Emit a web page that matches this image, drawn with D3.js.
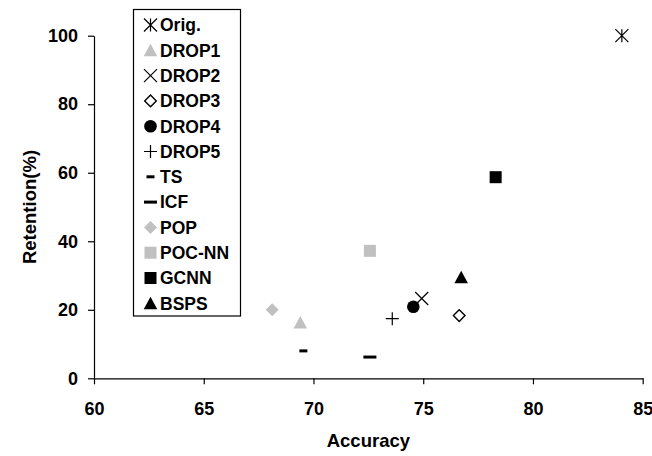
<!DOCTYPE html>
<html>
<head>
<meta charset="utf-8">
<script src="https://cdn.jsdelivr.net/npm/d3@7"></script>
<style>
  html, body { margin: 0; padding: 0; background: #fff; }
  svg { display: block; font-family: "Liberation Sans", Arial, sans-serif; }
</style>
</head>
<body>
<svg id="chart" width="652" height="456"></svg>
<script>
// Prototype-selection methods: accuracy vs. retention
const methods   = ["Orig.", "DROP1", "DROP2", "DROP3", "DROP4", "DROP5", "TS", "ICF", "POP", "POC-NN", "GCNN", "BSPS"];
const accuracy  = [84.05, 69.4, 74.93, 76.64, 74.55, 73.59, 69.54, 72.57, 68.12, 72.57, 78.3, 76.73];
const retention = [100, 16.3, 23.3, 18.3, 20.9, 17.4, 8.0, 6.2, 20.0, 37.2, 58.7, 29.5];
const symbols   = ["asterisk", "triangle", "cross", "diamondOpen", "circle", "plus", "dashShort", "dashLong", "diamond", "square", "square", "triangle"];
const colors    = ["#000", "#c0c0c0", "#000", "#000", "#000", "#000", "#000", "#000", "#c0c0c0", "#c0c0c0", "#000", "#000"];

const xTicks = [60, 65, 70, 75, 80, 85];
const yTicks = [0, 20, 40, 60, 80, 100];

const svg = d3.select("#chart");
const x = d3.scaleLinear().domain([60, 85]).range([94, 642.7]);
const y = d3.scaleLinear().domain([0, 100]).range([378.3, 35.7]);

// axes
const yAxis = svg.append("g")
  .attr("transform", `translate(${x(60)},0)`)
  .call(d3.axisLeft(y).tickValues(yTicks).tickSize(6).tickSizeOuter(0).tickPadding(10));
const xAxis = svg.append("g")
  .attr("transform", `translate(0,${y(0)})`)
  .call(d3.axisBottom(x).tickValues(xTicks).tickSize(6).tickSizeOuter(0).tickPadding(18));
[xAxis, yAxis].forEach(g => {
  g.selectAll("path, line").attr("stroke", "#000").attr("stroke-width", 1.2);
  g.selectAll("text").attr("fill", "#000").style("font-size", "18px").style("font-weight", "bold");
});

// axis titles
svg.append("text")
  .attr("x", (x.range()[0] + x.range()[1]) / 2).attr("y", 447)
  .attr("text-anchor", "middle")
  .style("font-size", "18.5px").style("font-weight", "bold")
  .text("Accuracy");
svg.append("text")
  .attr("transform", `translate(36,207) rotate(-90)`)
  .attr("text-anchor", "middle")
  .style("font-size", "18.5px").style("font-weight", "bold")
  .text("Retention(%)");

// marker drawing
function drawMarker(g, type, color) {
  const s = 6.5;
  switch (type) {
    case "asterisk":
      g.append("path")
        .attr("d", `M${-s},${-s}L${s},${s}M${-s},${s}L${s},${-s}M0,${-s}L0,${s}`)
        .attr("stroke", color).attr("stroke-width", 1.2).attr("fill", "none");
      break;
    case "cross":
      g.append("path")
        .attr("d", `M${-s},${-s}L${s},${s}M${-s},${s}L${s},${-s}`)
        .attr("stroke", color).attr("stroke-width", 1.2).attr("fill", "none");
      break;
    case "plus":
      g.append("path")
        .attr("d", `M${-s},0L${s},0M0,${-s}L0,${s}`)
        .attr("stroke", color).attr("stroke-width", 1.2).attr("fill", "none");
      break;
    case "triangle":
      g.append("path")
        .attr("d", `M0,${-s}L${s + 0.3},${s - 0.5}L${-s - 0.3},${s - 0.5}Z`)
        .attr("fill", color);
      break;
    case "diamond":
      g.append("path")
        .attr("d", `M0,${-s}L${s},0L0,${s}L${-s},0Z`)
        .attr("fill", color);
      break;
    case "diamondOpen":
      g.append("path")
        .attr("d", `M0,${-s + 0.7}L${s - 0.7},0L0,${s - 0.7}L${-s + 0.7},0Z`)
        .attr("fill", "#fff").attr("stroke", color).attr("stroke-width", 1.4);
      break;
    case "circle":
      g.append("circle").attr("r", s - 0.2).attr("fill", color);
      break;
    case "square":
      g.append("rect").attr("x", -6).attr("y", -6).attr("width", 12).attr("height", 12).attr("fill", color);
      break;
    case "dashShort":
      g.append("rect").attr("x", -4).attr("y", -1.5).attr("width", 8).attr("height", 3).attr("fill", color);
      break;
    case "dashLong":
      g.append("rect").attr("x", -6.5).attr("y", -1.5).attr("width", 13).attr("height", 3).attr("fill", color);
      break;
  }
}

// data points
const points = svg.append("g");
methods.forEach((m, i) => {
  const g = points.append("g").attr("transform", `translate(${x(accuracy[i])},${y(retention[i])})`);
  drawMarker(g, symbols[i], colors[i]);
});

// legend
const legend = svg.append("g");
legend.append("rect")
  .attr("x", 133.5).attr("y", 9.5).attr("width", 107).attr("height", 306.5)
  .attr("fill", "#fff").attr("stroke", "#000").attr("stroke-width", 1.2);
methods.forEach((m, i) => {
  const cy = 25 + i * 25.3;
  const g = legend.append("g").attr("transform", `translate(150.5,${cy})`);
  drawMarker(g, symbols[i], colors[i]);
  legend.append("text")
    .attr("x", 160).attr("y", cy).attr("dy", "0.36em")
    .style("font-size", "17.5px").style("font-weight", "bold")
    .text(m);
});
</script>
</body>
</html>
